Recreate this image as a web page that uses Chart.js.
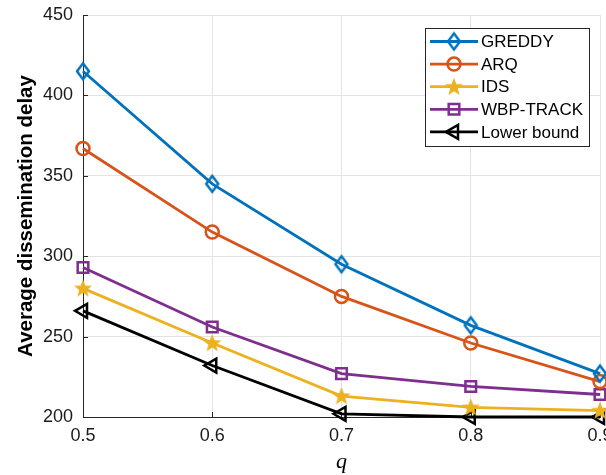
<!DOCTYPE html>
<html>
<head>
<meta charset="utf-8">
<script src="https://cdn.jsdelivr.net/npm/chart.js@4"></script>
<style>
  html, body { margin: 0; padding: 0; background: #fff; overflow: hidden; }
  #wrap { width: 626px; height: 475px; }
</style>
</head>
<body>
<div id="wrap"><canvas id="chart" width="626" height="475"></canvas></div>
<script>
const qValues = [0.5, 0.6, 0.7, 0.8, 0.9];
const greddy = [415, 345, 295, 257, 227];
const arq = [367, 315, 275, 246, 222];
const ids = [280, 246, 213, 206, 204];
const wbpTrack = [293, 256, 227, 219, 214];
const lowerBound = [266, 232, 202, 200, 200];
const seriesNames = ["GREDDY", "ARQ", "IDS", "WBP-TRACK", "Lower bound"];

const FONT = "'Liberation Sans', Arial, sans-serif";
const AXIS = "#262626";

// pentagram marker, filled like the reference
function makeStar(color) {
  const c = document.createElement("canvas");
  c.width = 22;
  c.height = 22;
  const g = c.getContext("2d");
  g.beginPath();
  for (let i = 0; i < 10; i++) {
    const r = i % 2 === 0 ? 9.5 : 4;
    const a = -Math.PI / 2 + i * Math.PI / 5;
    g.lineTo(11 + r * Math.cos(a), 11.5 + r * Math.sin(a));
  }
  g.closePath();
  g.fillStyle = color;
  g.fill();
  return c;
}

// slightly tall diamond, open
function makeDiamond(color) {
  const c = document.createElement("canvas");
  c.width = 18;
  c.height = 22;
  const g = c.getContext("2d");
  g.beginPath();
  g.moveTo(9, 3);
  g.lineTo(15, 11);
  g.lineTo(9, 19);
  g.lineTo(3, 11);
  g.closePath();
  g.strokeStyle = color;
  g.lineWidth = 2.5;
  g.stroke();
  return c;
}

function points(values) {
  return values.map((v, i) => ({x: qValues[i], y: v}));
}

function series(label, values, color, style, radius, extra) {
  return Object.assign({
    label: label,
    data: points(values),
    borderColor: color,
    backgroundColor: color,
    borderWidth: 2.8,
    pointStyle: style,
    pointRadius: radius,
    pointHoverRadius: radius,
    pointBorderColor: color,
    pointBackgroundColor: "rgba(0,0,0,0)",
    pointBorderWidth: 2.5,
    tension: 0,
    clip: false
  }, extra || {});
}

const datasets = [
  series(seriesNames[0], greddy, "#0072BD", makeDiamond("#0072BD"), 8),
  series(seriesNames[1], arq, "#D95319", "circle", 6.5),
  series(seriesNames[2], ids, "#EDB120", makeStar("#EDB120"), 10),
  series(seriesNames[3], wbpTrack, "#7E2F8E", "rect", 7.5),
  series(seriesNames[4], lowerBound, "#000000", "triangle", 8, {pointRotation: -90})
];

const innerTicks = {
  id: "innerTicks",
  beforeDatasetsDraw(chart) {
    const {ctx, chartArea, scales} = chart;
    ctx.save();
    ctx.strokeStyle = AXIS;
    ctx.lineWidth = 1;
    ctx.beginPath();
    scales.y.ticks.forEach(t => {
      const y = Math.round(scales.y.getPixelForValue(t.value)) + 0.5;
      ctx.moveTo(chartArea.left, y);
      ctx.lineTo(chartArea.left + 5, y);
    });
    scales.x.ticks.forEach(t => {
      const x = Math.round(scales.x.getPixelForValue(t.value)) + 0.5;
      ctx.moveTo(x, chartArea.bottom);
      ctx.lineTo(x, chartArea.bottom - 5);
    });
    ctx.stroke();
    ctx.restore();
  }
};

const boxLegend = {
  id: "boxLegend",
  afterDraw(chart) {
    const ctx = chart.ctx;
    const x0 = 425, y0 = 28, w = 164, h = 118;
    ctx.save();
    ctx.fillStyle = "#fff";
    ctx.fillRect(x0, y0, w, h);
    ctx.strokeStyle = AXIS;
    ctx.lineWidth = 1;
    ctx.strokeRect(x0 + 0.5, y0 + 0.5, w, h);
    chart.data.datasets.forEach((ds, i) => {
      const y = 41.5 + i * 22.6;
      ctx.strokeStyle = ds.borderColor;
      ctx.lineWidth = ds.borderWidth;
      ctx.beginPath();
      ctx.moveTo(430, y);
      ctx.lineTo(478, y);
      ctx.stroke();
      ctx.fillStyle = ds.pointBackgroundColor;
      ctx.strokeStyle = ds.borderColor;
      ctx.lineWidth = ds.pointBorderWidth;
      Chart.helpers.drawPoint(ctx, {
        pointStyle: ds.pointStyle,
        rotation: ds.pointRotation || 0,
        radius: ds.pointRadius,
        borderWidth: ds.pointBorderWidth
      }, 454, y);
      ctx.fillStyle = "#000";
      ctx.font = "17px " + FONT;
      ctx.textBaseline = "middle";
      ctx.textAlign = "left";
      ctx.fillText(ds.label, 481, y + 1);
    });
    ctx.restore();
  }
};

new Chart(document.getElementById("chart"), {
  type: "line",
  data: {datasets: datasets},
  plugins: [innerTicks, boxLegend],
  options: {
    responsive: false,
    animation: false,
    layout: {padding: {top: 15, right: 26, left: 0, bottom: 0}},
    plugins: {legend: {display: false}, tooltip: {enabled: false}},
    scales: {
      x: {
        type: "linear",
        min: 0.5,
        max: 0.9,
        afterFit: s => { s.height = 58; },
        ticks: {
          stepSize: 0.1,
          padding: 8,
          color: "#1a1a1a",
          font: {family: FONT, size: 18},
          callback: v => v.toFixed(1)
        },
        grid: {color: "#e3e3e3", drawTicks: false},
        border: {color: AXIS, width: 1},
        title: {
          display: true,
          text: "q",
          color: "#000",
          padding: {top: 6, bottom: 0},
          font: {family: "'Liberation Serif', 'Times New Roman', serif", size: 22, style: "italic"}
        }
      },
      y: {
        min: 200,
        max: 450,
        afterFit: s => {
          s.width = 83;
          s.paddingTop = 0;
          s.paddingBottom = 0;
        },
        ticks: {
          stepSize: 50,
          padding: 10,
          color: "#1a1a1a",
          font: {family: FONT, size: 18}
        },
        grid: {color: "#e3e3e3", drawTicks: false},
        border: {color: AXIS, width: 1},
        title: {
          display: true,
          text: "Average dissemination delay",
          color: "#000",
          padding: {top: 14, bottom: 2},
          font: {family: FONT, size: 20.5, weight: "bold"}
        }
      }
    }
  }
});
</script>
</body>
</html>
